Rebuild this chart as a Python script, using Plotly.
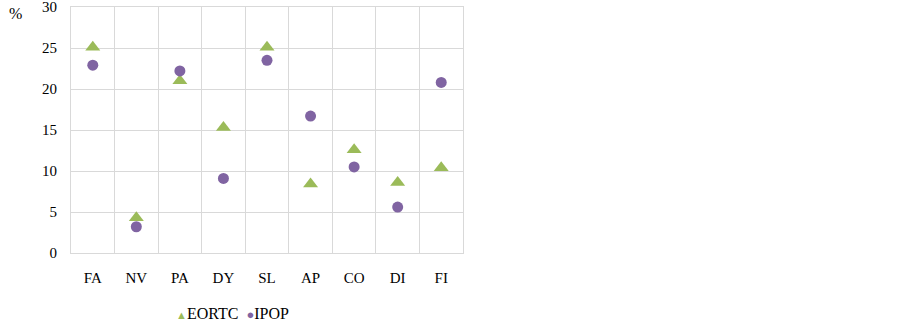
import plotly.graph_objects as go

categories = ["FA", "NV", "PA", "DY", "SL", "AP", "CO", "DI", "FI"]
eortc = [25.1, 4.3, 21.0, 15.3, 25.1, 8.4, 12.6, 8.6, 10.4]
ipop = [22.9, 3.2, 22.2, 9.1, 23.5, 16.7, 10.5, 5.6, 20.8]
y_ticks = [0, 5, 10, 15, 20, 25, 30]

GREEN = "#9BBB59"
PURPLE = "#8064A2"
GRID = "#D9D9D9"
FONT = "Liberation Serif, Times New Roman, serif"

fig = go.Figure()
fig.add_trace(go.Scatter(x=categories, y=eortc, mode="markers", name="EORTC",
                         showlegend=False,
                         marker=dict(symbol="triangle-up", size=13, color=GREEN)))
fig.add_trace(go.Scatter(x=categories, y=ipop, mode="markers", name="IPOP",
                         showlegend=False,
                         marker=dict(symbol="circle", size=11, color=PURPLE)))

legend_text = (f"<span style='color:{GREEN};font-size:11px'>▲</span>EORTC&nbsp;&nbsp;"
               f"<span style='color:{PURPLE};font-size:13px'>●</span>IPOP")

fig.update_layout(
    width=902, height=323,
    margin=dict(l=71, r=439, t=7, b=70, autoexpand=False),
    paper_bgcolor="white", plot_bgcolor="white",
    font=dict(family=FONT, size=15, color="#000000"),
    xaxis=dict(type="category", range=[-0.5, 8.5], tickson="boundaries",
               showgrid=True, gridcolor=GRID, gridwidth=1, showline=True,
               linecolor=GRID, mirror=True, ticks="", ticklabelstandoff=11,
               zeroline=False, automargin=False),
    yaxis=dict(range=[0, 30], tickvals=y_ticks, showgrid=True, gridcolor=GRID,
               gridwidth=1, showline=True, linecolor=GRID, mirror=True, ticks="",
               ticklabelstandoff=10, zeroline=False, automargin=False,
               ticklabeloverflow="allow"),
    annotations=[
        dict(text="%", xref="paper", yref="paper", x=(15 - 71) / 392,
             y=(253 - 13) / 246, xanchor="center", yanchor="middle",
             showarrow=False, font=dict(family=FONT, size=16)),
        dict(text=legend_text, xref="paper", yref="paper", x=(232.5 - 71) / 392,
             y=(253 - 313) / 246, xanchor="center", yanchor="middle",
             showarrow=False, font=dict(family=FONT, size=16)),
    ],
)

fig.write_html("out.html", config={"displayModeBar": False},
               post_script="document.body.style.margin='0px';")
